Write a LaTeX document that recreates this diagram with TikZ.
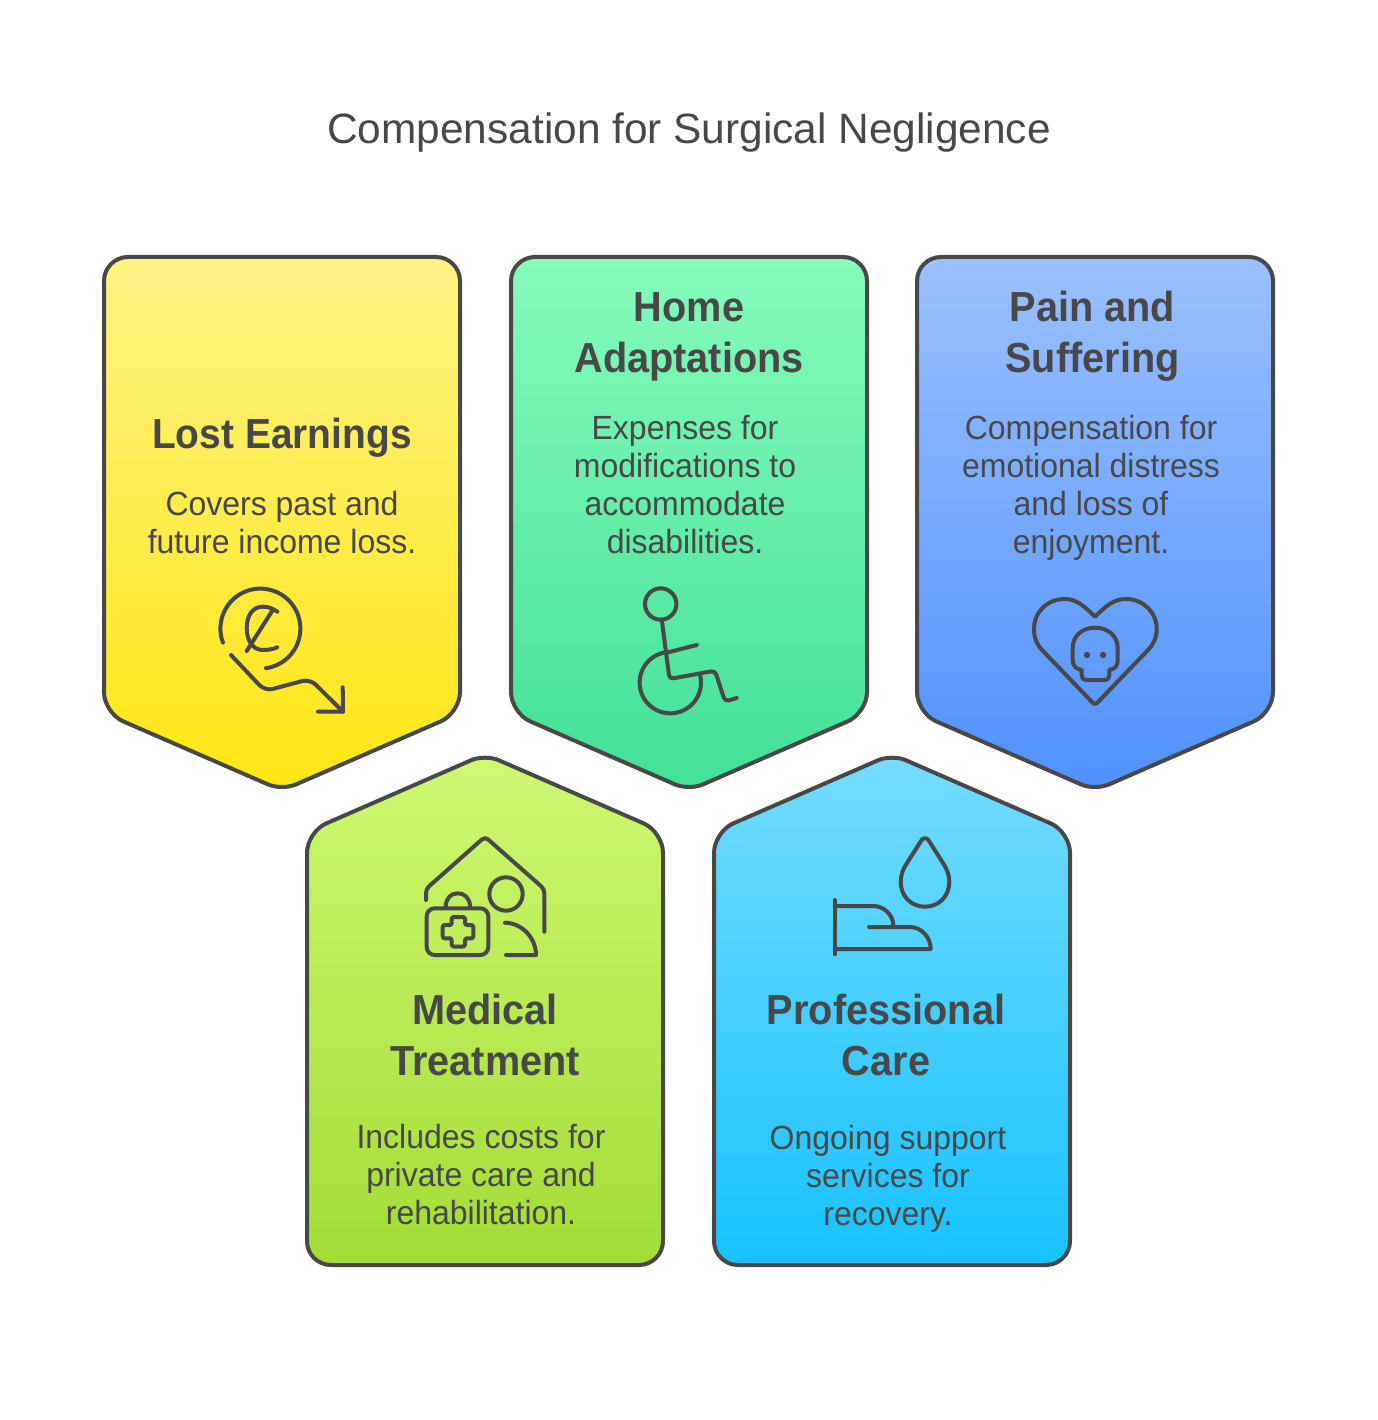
\documentclass[tikz,border=0pt]{standalone}
\usepackage{fontspec}
\setmainfont{Liberation Sans}
\newfontface\titlefont{Liberation Sans}[FakeStretch=1.0]
\newfontface\headfont{Liberation Sans Bold}[FakeStretch=0.945]
\newfontface\headnarrow{Liberation Sans Bold}[FakeStretch=0.927]
\newfontface\bodyfont{Liberation Sans}[FakeStretch=0.955]
\definecolor{ink}{HTML}{484848}
\tikzset{
  x=1pt,y=-1pt,
  card/.style={draw=ink,line width=4pt,line join=round},
  icon/.style={draw=ink,line width=4pt,line cap=round,line join=round},
  titletext/.style={text=ink,font=\titlefont\fontsize{42.4}{50}\selectfont,align=center,inner sep=0pt},
  headtext/.style={text=ink,font=\headfont\fontsize{42}{51}\selectfont,align=center,inner sep=0pt},
  headtight/.style={text=ink,font=\headnarrow\fontsize{42}{51}\selectfont,align=center,inner sep=0pt},
  bodytext/.style={text=ink,font=\bodyfont\fontsize{33.5}{38}\selectfont,align=center,inner sep=0pt},
  cardA/.style={card,top color=cAt,bottom color=cAb},
  cardB/.style={card,top color=cBt,bottom color=cBb},
  cardC/.style={card,top color=cCt,bottom color=cCb},
  cardD/.style={card,top color=cDt,bottom color=cDb},
  cardE/.style={card,top color=cEt,bottom color=cEb},
}
\definecolor{cAt}{HTML}{FFF284}\definecolor{cAb}{HTML}{FFE612}
\definecolor{cBt}{HTML}{86FBBB}\definecolor{cBb}{HTML}{42E097}
\definecolor{cCt}{HTML}{9BC0FF}\definecolor{cCb}{HTML}{4F91FF}
\definecolor{cDt}{HTML}{CEF972}\definecolor{cDb}{HTML}{A3DC35}
\definecolor{cEt}{HTML}{74DCFF}\definecolor{cEb}{HTML}{17C2FF}
\newcommand{\downcard}[2]{%
  \shade[#1] (#2+100,257) [rounded corners=24pt] -- (#2+356,257)
   [rounded corners=21pt] -- (#2+356,713)
   [rounded corners=15pt] -- (#2+178,790.5)
   [rounded corners=21pt] -- (#2,713)
   [rounded corners=24pt] -- (#2,257) -- cycle;}
\newcommand{\upcard}[2]{%
  \shade[#1] (#2+100,1265) [rounded corners=24pt] -- (#2,1265)
   [rounded corners=21pt] -- (#2,831.8)
   [rounded corners=15pt] -- (#2+178,754.2)
   [rounded corners=21pt] -- (#2+356,831.8)
   [rounded corners=24pt] -- (#2+356,1265) -- cycle;}
\begin{document}
\begin{tikzpicture}
\useasboundingbox (0,0) rectangle (1377,1420);
\fill[white] (0,0) rectangle (1377,1420);

\downcard{cardA}{104}
\downcard{cardB}{511}
\downcard{cardC}{917}
\upcard{cardD}{307}
\upcard{cardE}{714}

\node[titletext] (title) at (689,133) {Compensation for Surgical Negligence};

\node[headtight] (h1) at (282,438) {Lost Earnings};
\node[bodytext] (b1) at (282,523) {Covers past and\\future income loss.};
\node[headtext] (h2) at (689,336.5) {Home\\Adaptations};
\node[bodytext] (b2) at (685,485) {Expenses for\\modifications to\\accommodate\\disabilities.};
\node[headtext] (h3) at (1092.5,336.5) {Pain and\\Suffering};
\node[bodytext] (b3) at (1091,488) {Compensation for\\emotional distress\\and loss of\\enjoyment.};
\node[headtext] (h4) at (485,1034.5) {Medical\\Treatment};
\node[bodytext] (b4) at (481,1175) {Includes costs for\\private care and\\rehabilitation.};
\node[headtext] (h5) at (886,1034.5) {Professional\\Care};
\node[bodytext] (b5) at (888,1179) {Ongoing support\\services for\\recovery.};

% Icon: lost earnings
\draw[icon] (260.4,628.6) ++(159.5:40) arc[start angle=159.5,end angle=442,radius=40];
\draw[icon] (277.3,611.7) .. controls (272,608) and (268,606.7) .. (263,606.7)
  .. controls (253,606.7) and (246.7,615) .. (246.7,628)
  .. controls (246.7,641) and (253,650) .. (263,650)
  .. controls (269,650) and (273,649) .. (277.3,647.3);
\draw[icon] (272.3,610.7) -- (246.7,651);
\draw[icon,rounded corners=8pt] (231,655) -- (265,691) -- (310,679) -- (343,711.7);
\draw[icon] (342.7,687.3) -- (343,711.7) -- (318,711.7);

% Icon: wheelchair
\draw[icon] (660.7,604) circle[radius=15.7];
\draw[icon,rounded corners=4pt] (661.7,619.3) -- (669.5,679) -- (715,670.7) -- (725,701.5) -- (736.7,698);
\draw[icon] (666.7,652.7) -- (696.7,645);
\draw[icon] (665,652.4) arc[start angle=260,end angle=-14,radius=30.7];

% Icon: heart with skull
\draw[icon] (1095,616.7) .. controls (1085,607) and (1077,599) .. (1065,599)
  .. controls (1047,599) and (1034,612) .. (1034,629)
  .. controls (1034,638) and (1037,645) .. (1042,650) -- (1092,702)
  .. controls (1094,704.5) and (1096,704.5) .. (1098,702) -- (1148,650)
  .. controls (1153,645) and (1156.7,638) .. (1156.7,629)
  .. controls (1156.7,612) and (1143,599) .. (1126,599)
  .. controls (1113,599) and (1105,607) .. (1095,616.7) -- cycle;
\draw[icon] (1095,627.7) .. controls (1082,627.7) and (1072.7,636) .. (1072.7,648)
  -- (1072.7,660) .. controls (1072.7,666) and (1076,669) .. (1081.7,670)
  -- (1081.7,675) .. controls (1081.7,678) and (1083,680) .. (1086,680)
  -- (1105,680) .. controls (1108,680) and (1109.3,678) .. (1109.3,675)
  -- (1109.3,670) .. controls (1115,669) and (1117.7,666) .. (1117.7,660)
  -- (1117.7,648) .. controls (1117.7,636) and (1108,627.7) .. (1095,627.7) -- cycle;
\fill[ink] (1087,655) circle[radius=3.2] (1103,655) circle[radius=3.2];

% Icon: medical treatment
\draw[icon,rounded corners=4pt] (426,900) -- (426,889) -- (485,836.7) -- (544.3,889) -- (544.3,931.7);
\draw[icon] (506,894) circle[radius=16.7];
\draw[icon] (505,922.7) .. controls (522,923) and (536,938) .. (536,955) -- (506,955);
\draw[icon,rounded corners=8pt] (426.7,908.3) rectangle (488.3,955);
\draw[icon] (445.7,906.7) .. controls (446,898) and (451,893.3) .. (457.7,893.3) .. controls (464.5,893.3) and (470,898) .. (470,906.7);
\draw[icon,rounded corners=2pt] (451.7,917) -- (465,917) -- (465,925) -- (473.3,925) -- (473.3,938.3) -- (465,938.3) -- (465,946.5) -- (451.7,946.5) -- (451.7,938.3) -- (442.7,938.3) -- (442.7,925) -- (451.7,925) -- cycle;

% Icon: professional care
\draw[icon] (925,838.3) .. controls (923,838.3) and (922,839) .. (921,841)
  -- (907,863) .. controls (903,869) and (900.7,875) .. (900.7,882)
  .. controls (900.7,896) and (911,906.7) .. (925,906.7)
  .. controls (939,906.7) and (949.3,896) .. (949.3,882)
  .. controls (949.3,875) and (947,869) .. (943,863)
  -- (929,841) .. controls (928,839) and (927,838.3) .. (925,838.3) -- cycle;
\draw[icon] (834.7,900) -- (834.7,954.3);
\draw[icon] (834.7,906) -- (873.3,906) .. controls (884,906) and (893,915) .. (893.3,925);
\draw[icon] (869,927) -- (910,927) .. controls (921,927) and (930.7,937) .. (930.7,949) -- (834.7,949);
\end{tikzpicture}
\end{document}
